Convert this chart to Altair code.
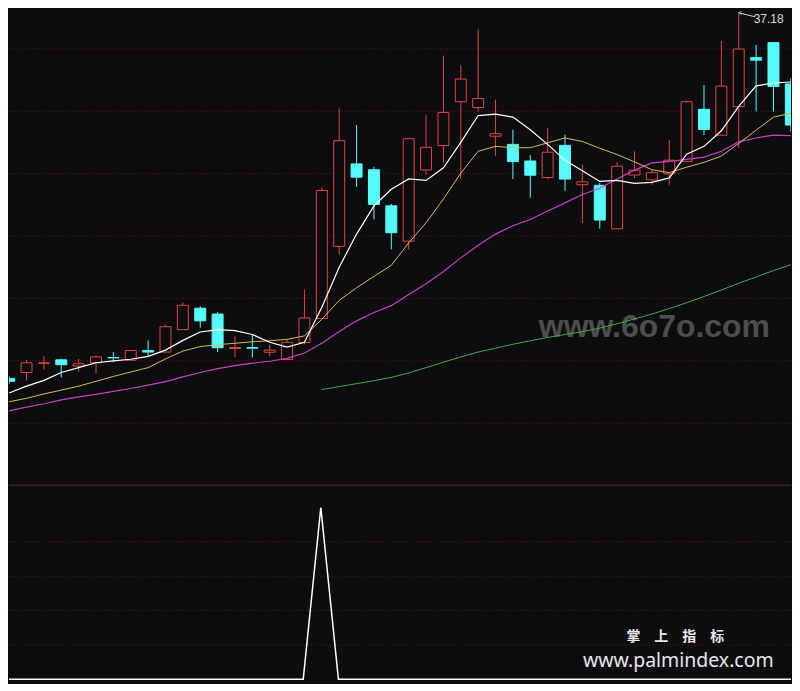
import altair as alt
import pandas as pd

# ---------------- data ----------------
idx = list(range(-1, 45))

open_ = [18.43, 18.73, 19.20, 19.38, 19.06, 19.23, 19.50, 19.36, 19.86, 19.78,
         20.93, 22.03, 21.73, 19.96, 20.01, 19.77, 19.40, 20.27, 21.50, 25.20,
         29.43, 29.13, 27.28, 25.47, 29.12, 30.37, 32.62, 32.32, 30.85, 30.43,
         29.58, 28.73, 30.38, 28.36, 28.33, 26.10, 28.86, 28.61, 28.92, 29.56,
         32.23, 30.90, 32.37, 34.88, 35.65, 33.53]
high = [18.53, 19.38, 19.58, 19.43, 19.43, 19.63, 19.78, 19.88, 20.38, 21.18,
        22.33, 22.13, 21.83, 20.58, 20.70, 20.16, 20.42, 22.98, 28.23, 32.28,
        31.43, 29.28, 27.37, 30.73, 31.95, 34.98, 34.48, 36.33, 32.73, 31.18,
        29.88, 31.28, 30.93, 29.38, 28.45, 29.53, 30.08, 29.11, 30.65, 32.68,
        33.48, 35.73, 37.18, 35.53, 35.65, 33.83]
low = [18.13, 18.33, 18.88, 18.48, 18.78, 18.68, 19.28, 19.36, 19.58, 19.76,
       20.91, 21.03, 19.78, 19.53, 19.50, 19.57, 19.40, 20.18, 21.48, 24.80,
       28.25, 26.58, 25.05, 25.05, 28.87, 29.50, 28.67, 32.12, 29.85, 28.65,
       27.70, 28.65, 28.05, 26.40, 26.11, 26.10, 28.70, 28.36, 28.36, 29.56,
       30.90, 30.90, 30.25, 32.12, 32.12, 31.08]
close = [18.28, 19.23, 19.23, 19.13, 19.18, 19.53, 19.48, 19.86, 19.78, 21.08,
         22.18, 21.38, 20.00, 20.01, 19.98, 19.88, 20.28, 21.53, 28.07, 30.62,
         28.75, 27.35, 25.90, 30.72, 30.28, 32.07, 33.78, 32.78, 30.98, 29.55,
         28.85, 30.03, 28.65, 28.51, 26.55, 29.31, 29.11, 28.98, 29.62, 32.62,
         31.20, 33.42, 35.32, 34.75, 33.40, 31.42]

ma5 = [17.68, 18.03, 18.33, 18.73, 18.98, 19.23, 19.33, 19.41, 19.56, 19.88,
       20.38, 20.81, 20.93, 20.88, 20.68, 20.28, 20.03, 20.28, 22.08, 24.13,
       25.83, 27.28, 28.13, 28.66, 28.58, 29.23, 30.53, 31.91, 31.98, 31.83,
       31.18, 30.43, 29.61, 29.08, 28.53, 28.58, 28.43, 28.48, 28.71, 29.93,
       30.33, 31.13, 32.38, 33.43, 33.58, 33.63]
ma10 = [17.23, 17.41, 17.63, 17.83, 18.03, 18.28, 18.53, 18.76, 18.98, 19.43,
        19.83, 20.06, 20.16, 20.23, 20.31, 20.36, 20.43, 20.61, 21.46, 22.43,
        23.08, 23.66, 24.23, 25.38, 26.41, 27.63, 28.96, 30.08, 30.33, 30.26,
        30.26, 30.51, 30.76, 30.58, 30.23, 29.91, 29.53, 29.13, 28.98, 29.26,
        29.51, 29.83, 30.48, 31.16, 31.83, 32.03]
ma20 = [16.76, 16.96, 17.13, 17.33, 17.48, 17.61, 17.76, 17.91, 18.08, 18.26,
        18.51, 18.73, 18.93, 19.08, 19.21, 19.31, 19.46, 19.73, 20.23, 20.83,
        21.38, 21.81, 22.16, 22.73, 23.28, 23.91, 24.61, 25.26, 25.83, 26.26,
        26.58, 27.01, 27.43, 27.86, 28.18, 28.66, 29.11, 29.48, 29.56, 29.66,
        29.78, 30.08, 30.56, 30.76, 30.91, 30.88]
ma60 = [None] * 18 + [17.86, 18.01, 18.16, 18.31, 18.48, 18.71, 18.98, 19.26,
                      19.53, 19.78, 19.98, 20.18, 20.36, 20.53, 20.68, 20.83,
                      21.01, 21.23, 21.48, 21.73, 22.01, 22.31, 22.63, 22.96,
                      23.31, 23.63, 23.96, 24.26]
signal = [0] * 18 + [1] + [0] * 27

price_grid = [35.33, 32.13, 28.93, 25.73, 22.53, 19.33, 16.13]
signal_grid = [0.2, 0.4, 0.6, 0.8]
separator = [1.13]

watermark_top = ["www.6o7o.com"]
watermark_cn = ["掌　上　指　标"]
watermark_url = ["www.palmindex.com"]

# ---------------- styling ----------------
BG = "#0d0d10"
RED = "#e0473f"
CYAN = "#54fcfc"
GRID = "#5e1818"
W = 784
H1 = 476
H2 = 199

df = pd.DataFrame({"i": idx, "open": open_, "high": high, "low": low,
                   "close": close, "ma5": ma5, "ma10": ma10, "ma20": ma20,
                   "ma60": ma60, "sig": signal})

xs = alt.Scale(domain=[-0.722, 43.722], nice=False, zero=False)
ys = alt.Scale(domain=[12.98, 37.33], nice=False, zero=False)
ys2 = alt.Scale(domain=[-0.0226, 1.133], nice=False, zero=False)
X = alt.X("i:Q", scale=xs, axis=None)

base = alt.Chart(df)

grid = alt.Chart(pd.DataFrame({"g": price_grid})).mark_rule(
    color=GRID, strokeDash=[1, 2], strokeWidth=1
).encode(y=alt.Y("g:Q", scale=ys, axis=None))

wm = alt.Chart(pd.DataFrame({"t": watermark_top})).mark_text(
    font="Liberation Sans", fontWeight="bold", fontSize=32, color="#4d4d4d",
    align="center", baseline="middle"
).encode(text="t:N", x=alt.value(647), y=alt.value(318))

wick = base.mark_rule(strokeWidth=1, clip=True).encode(
    x=X,
    y=alt.Y("low:Q", scale=ys, axis=None),
    y2="high:Q",
    color=alt.condition("datum.close >= datum.open", alt.value(RED), alt.value(CYAN)),
)

body_up = base.transform_filter("datum.close >= datum.open").mark_bar(
    size=11, fill=BG, stroke=RED, strokeWidth=1, clip=True
).encode(x=X, y=alt.Y("open:Q", scale=ys, axis=None), y2="close:Q")

body_dn = base.transform_filter("datum.close < datum.open").mark_bar(
    size=11, fill=CYAN, stroke=CYAN, strokeWidth=1, clip=True
).encode(x=X, y=alt.Y("open:Q", scale=ys, axis=None), y2="close:Q")


def ma_line(field, color, width):
    return base.mark_line(color=color, strokeWidth=width, clip=True).encode(
        x=X, y=alt.Y(f"{field}:Q", scale=ys, axis=None)
    )


l60 = ma_line("ma60", "#3fae44", 1)
l20 = ma_line("ma20", "#c63fc6", 1.2)
l10 = ma_line("ma10", "#d9bd4c", 1)
l5 = ma_line("ma5", "#ffffff", 1.2)

top_point = base.transform_joinaggregate(mx="max(high)").transform_filter(
    "datum.high == datum.mx"
)
hi_label = top_point.mark_text(
    align="left", baseline="middle", dx=15, dy=6, fontSize=12,
    font="Liberation Sans", color="#dcdcdc"
).encode(x=X, y=alt.Y("high:Q", scale=ys, axis=None),
         text=alt.Text("high:Q", format=".2f"))
hi_arrow = top_point.mark_rule(color="#dcdcdc", strokeWidth=1).encode(
    x=X, y=alt.Y("high:Q", scale=ys, axis=None), x2=alt.value(748), y2=alt.value(7)
)
hi_head = top_point.mark_point(
    shape="M 0 0 L 1 -0.6 M 0 0 L 1 0.6", size=30, color="#dcdcdc",
    strokeWidth=1, filled=False
).encode(x=X, y=alt.Y("high:Q", scale=ys, axis=None))

upper = alt.layer(grid, wm, wick, body_up, body_dn, l60, l20, l10, l5,
                  hi_arrow, hi_head, hi_label).properties(width=W, height=H1)

# ---------------- lower panel ----------------
sgrid = alt.Chart(pd.DataFrame({"g": signal_grid})).mark_rule(
    color=GRID, strokeDash=[1, 2], strokeWidth=1
).encode(y=alt.Y("g:Q", scale=ys2, axis=None))

sep = alt.Chart(pd.DataFrame({"s": separator})).mark_rule(
    color="#7a1818", strokeWidth=1
).encode(y=alt.Y("s:Q", scale=ys2, axis=None))

sig_line = base.mark_line(color="#ffffff", strokeWidth=1.5, clip=True).encode(
    x=X, y=alt.Y("sig:Q", scale=ys2, axis=None)
)

cn = alt.Chart(pd.DataFrame({"t": watermark_cn})).mark_text(
    font="Noto Sans CJK SC", fontWeight="bold", fontSize=14, color="#e8e8e8",
    align="center", baseline="middle"
).encode(text="t:N", x=alt.value(668), y=alt.value(153))

url = alt.Chart(pd.DataFrame({"t": watermark_url})).mark_text(
    font="Noto Sans", fontSize=19.5, color="#e8e8e8",
    align="center", baseline="middle"
).encode(text="t:N", x=alt.value(671), y=alt.value(177))

lower = alt.layer(sgrid, sep, sig_line, cn, url).properties(width=W, height=H2)

chart = alt.vconcat(upper, lower, spacing=0).properties(
    background=BG, padding=0
).configure_view(stroke=None).configure_concat(spacing=0)

chart.save("out.html", embed_options={"renderer": "svg", "actions": False})
